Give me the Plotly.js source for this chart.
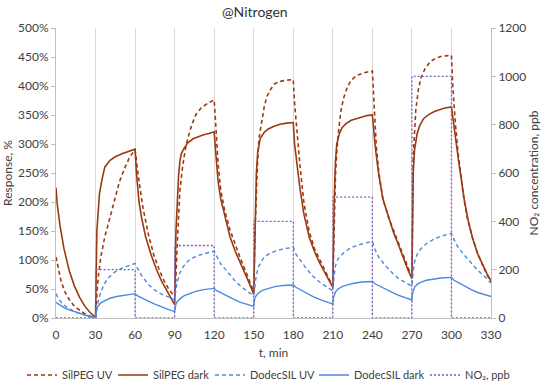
<!DOCTYPE html>
<html><head><meta charset="utf-8">
<script src="https://cdn.plot.ly/plotly-3.0.1.min.js"></script>
<style>html,body{margin:0;padding:0;background:#fff}#chart{width:550px;height:388px}</style>
</head><body><div id="chart"></div>
<script>
// SilPEG UV (dashed brown)
const silpegUvT = [0,2,4,7,10,14,18,22,26,30,
  31,32,34,37,40,44,48,52,56,60,
  61,63,66,70,74,78,82,86,90,
  91,92,93,94,96,98,100,103,106,110,115,120,
  121,122,123,125,128,132,136,140,144,147,150,
  151,152,153,154,156,158,160,163,166,170,175,180,
  181,182,183,185,188,192,196,200,204,207,210,
  211,212,213,214,216,218,221,224,228,234,240,
  241,242,243,245,248,252,256,260,264,267,270,
  271,272,273,275,277,280,284,288,292,296,300,
  301,302,303,305,307,309,312,316,320,324,327,330];
const silpegUvY = [105,80,62,44,32,20,13,7,3,0,
  40,70,105,140,165,200,234,258,278,290,
  270,235,190,145,110,85,64,48,37,
  70,130,180,220,260,290,310,333,350,362,370,376,
  340,300,265,220,185,152,125,102,80,63,45,
  150,230,275,310,340,365,382,395,404,408,410,411,
  370,340,310,265,200,150,120,100,82,68,56,
  180,245,285,315,355,378,398,410,418,423,426,
  375,330,295,250,205,175,152,130,106,88,70,
  280,330,360,395,415,430,442,448,451,452,453,
  400,360,335,285,250,212,172,138,110,88,74,62];

// SilPEG dark (solid brown)
const silpegDarkT = [0,1,3,6,10,14,18,22,26,30,
  31,32,33,35,37,41,45,50,55,60,
  61,62,63,65,68,72,76,80,84,87,90,
  91,92,93,94,95,97,100,104,108,112,116,120,
  121,122,123,125,128,132,136,140,144,147,150,
  151,152,153,155,158,161,165,170,175,180,
  181,182,183,185,188,192,196,200,204,207,210,
  211,212,213,215,217,220,224,228,232,236,240,
  241,242,243,245,248,252,256,260,264,267,270,
  271,272,274,276,279,283,287,291,295,300,
  301,302,304,306,308,310,313,316,320,324,327,330];
const silpegDarkY = [225,195,160,120,82,55,35,20,9,1,
  150,190,215,240,260,272,278,283,287,291,
  250,222,200,172,140,110,85,64,47,35,23,
  150,200,245,270,283,292,302,309,313,316,318,321,
  290,260,235,205,175,140,115,95,72,58,41,
  170,250,285,310,320,326,330,334,336,337,
  300,278,262,225,180,140,115,95,78,65,53,
  200,270,300,318,328,335,341,344,347,349,350,
  318,300,280,245,205,175,148,125,100,83,68,
  250,290,318,332,344,351,356,359,362,364,
  345,325,295,262,232,200,165,138,110,90,76,64];

// DodecSIL UV (dashed blue)
const dodecUvT = [0,2,5,10,15,20,25,30,
  31,32,34,37,40,45,50,55,60,
  62,65,70,75,80,85,90,
  91,92,94,97,100,104,108,112,116,120,
  122,125,130,135,140,145,150,
  151,152,154,157,161,166,172,180,
  182,185,190,195,200,205,210,
  211,212,214,218,223,228,234,240,
  242,245,250,255,260,265,270,
  271,272,274,277,281,286,292,300,
  302,305,310,315,320,325,330];
const dodecUvY = [42,33,24,16,10,6,3,0,
  15,28,45,60,70,80,86,90,94,
  85,73,58,48,41,36,32,
  50,62,78,90,98,104,108,111,113,115,
  105,93,80,66,55,46,39,
  60,75,90,102,110,115,119,122,
  110,100,85,72,62,54,47,
  72,90,102,112,120,125,129,132,
  118,104,90,78,68,61,55,
  80,97,110,120,128,135,141,146,
  135,122,108,95,82,72,60];

// DodecSIL dark (solid blue)
const dodecDarkT = [0,3,6,10,15,20,25,30,
  30.5,31,32,34,37,41,46,52,60,
  62,66,70,75,80,85,90,
  90.5,91,92,94,97,101,106,112,120,
  122,126,130,135,140,145,150,
  150.5,151,152,154,157,161,166,172,180,
  182,186,190,195,200,205,210,
  210.5,211,212,214,217,221,226,232,240,
  242,246,250,255,260,265,270,
  270.5,271,272,274,277,281,286,292,300,
  302,306,310,315,320,325,330];
const dodecDarkY = [27,22,18,14,10,6,3,1,
  12,17,21,26,30,34,37,39.5,42,
  38,33,29,24,19,15,11,
  20,24,28,33,38,42,46,49,51,
  47,42,37,32,27,23,20,
  30,35,39,44,48,51,54,56,57,
  53,48,43,37,32,28,24,
  35,40,45,50,54,57,60,62,63,
  59,54,50,44,39,35,31,
  43,48,53,58,62,65,67,69,70,
  65,60,55,49,44,40,37];

// NO2 concentration steps, ppb
const no2T = [0,30,60,90,120,150,180,210,240,270,300,330];
const no2Y = [0,200,0,300,0,400,0,500,0,1000,0,0];

const xTicks = [0,30,60,90,120,150,180,210,240,270,300,330];
const seriesNames = ['SilPEG UV', 'SilPEG dark', 'DodecSIL UV', 'DodecSIL dark', 'NO\u2082, ppb'];

const brown = '#9b3a12', blue = '#4a8ae0', purple = '#7b5cc4';
const traces = [
  {x: silpegUvT, y: silpegUvY, name: seriesNames[0], legend: 'legend', mode: 'lines', line: {color: brown, width: 1.6, dash: '4px,3px'}},
  {x: silpegDarkT, y: silpegDarkY, name: seriesNames[1], legend: 'legend2', mode: 'lines', line: {color: brown, width: 1.6}},
  {x: dodecUvT, y: dodecUvY, name: seriesNames[2], legend: 'legend3', mode: 'lines', line: {color: blue, width: 1.4, dash: '4px,3px'}},
  {x: dodecDarkT, y: dodecDarkY, name: seriesNames[3], legend: 'legend4', mode: 'lines', line: {color: blue, width: 1.4}},
  {x: no2T, y: no2Y, name: seriesNames[4], legend: 'legend5', mode: 'lines', yaxis: 'y2', line: {color: purple, width: 1.3, dash: '2px,2px', shape: 'hv'}}
];

const font = {family: 'Lato, "Open Sans", sans-serif', size: 12, color: '#404040'};
const legendFont = {family: 'Lato, "Open Sans", sans-serif', size: 11, color: '#404040'};
function legendAt(px) {
  return {orientation: 'h', xref: 'container', yref: 'container', x: px / 550, xanchor: 'left',
    y: 1 - 375 / 388, yanchor: 'middle', font: legendFont, itemwidth: 30,
    bgcolor: 'rgba(0,0,0,0)'};
}
const layout = {
  width: 550, height: 388,
  margin: {l: 56, r: 59, t: 28, b: 70, autoexpand: false},
  paper_bgcolor: '#fff', plot_bgcolor: '#fff',
  font: font,
  showlegend: true,
  title: {text: '@Nitrogen', x: 0.457, xref: 'paper', xanchor: 'center', y: 0.97, yref: 'container', yanchor: 'middle', font: {family: font.family, size: 14, color: '#333'}},
  xaxis: {
    range: [0, 330], tickvals: xTicks, ticktext: xTicks.map(String),
    showgrid: true, gridcolor: '#d9d9d9', gridwidth: 1,
    showline: true, linecolor: '#bfbfbf', zeroline: false, ticks: '', ticklabelstandoff: 6,
    title: {text: 't, min', font: {size: 12, color: '#404040'}, standoff: 8}
  },
  yaxis: {
    range: [0, 500], dtick: 50, ticksuffix: '%', showgrid: false, zeroline: false,
    showline: true, linecolor: '#bfbfbf', ticks: 'outside', ticklen: 4, tickcolor: '#bfbfbf',
    title: {text: 'Response, %', font: {size: 12, color: '#404040'}, standoff: 4}
  },
  yaxis2: {
    range: [0, 1200], dtick: 200, overlaying: 'y', side: 'right', showgrid: false, zeroline: false,
    showline: true, linecolor: '#bfbfbf', ticks: 'outside', ticklen: 4, tickcolor: '#bfbfbf',
    title: {text: 'NO\u2082 concentration, ppb', font: {size: 12, color: '#404040'}, standoff: 4}
  },
  legend: legendAt(22),
  legend2: legendAt(113),
  legend3: legendAt(210),
  legend4: legendAt(314),
  legend5: legendAt(425)
};
Plotly.newPlot('chart', traces, layout, {displayModeBar: false, staticPlot: true});
</script>
</body></html>
